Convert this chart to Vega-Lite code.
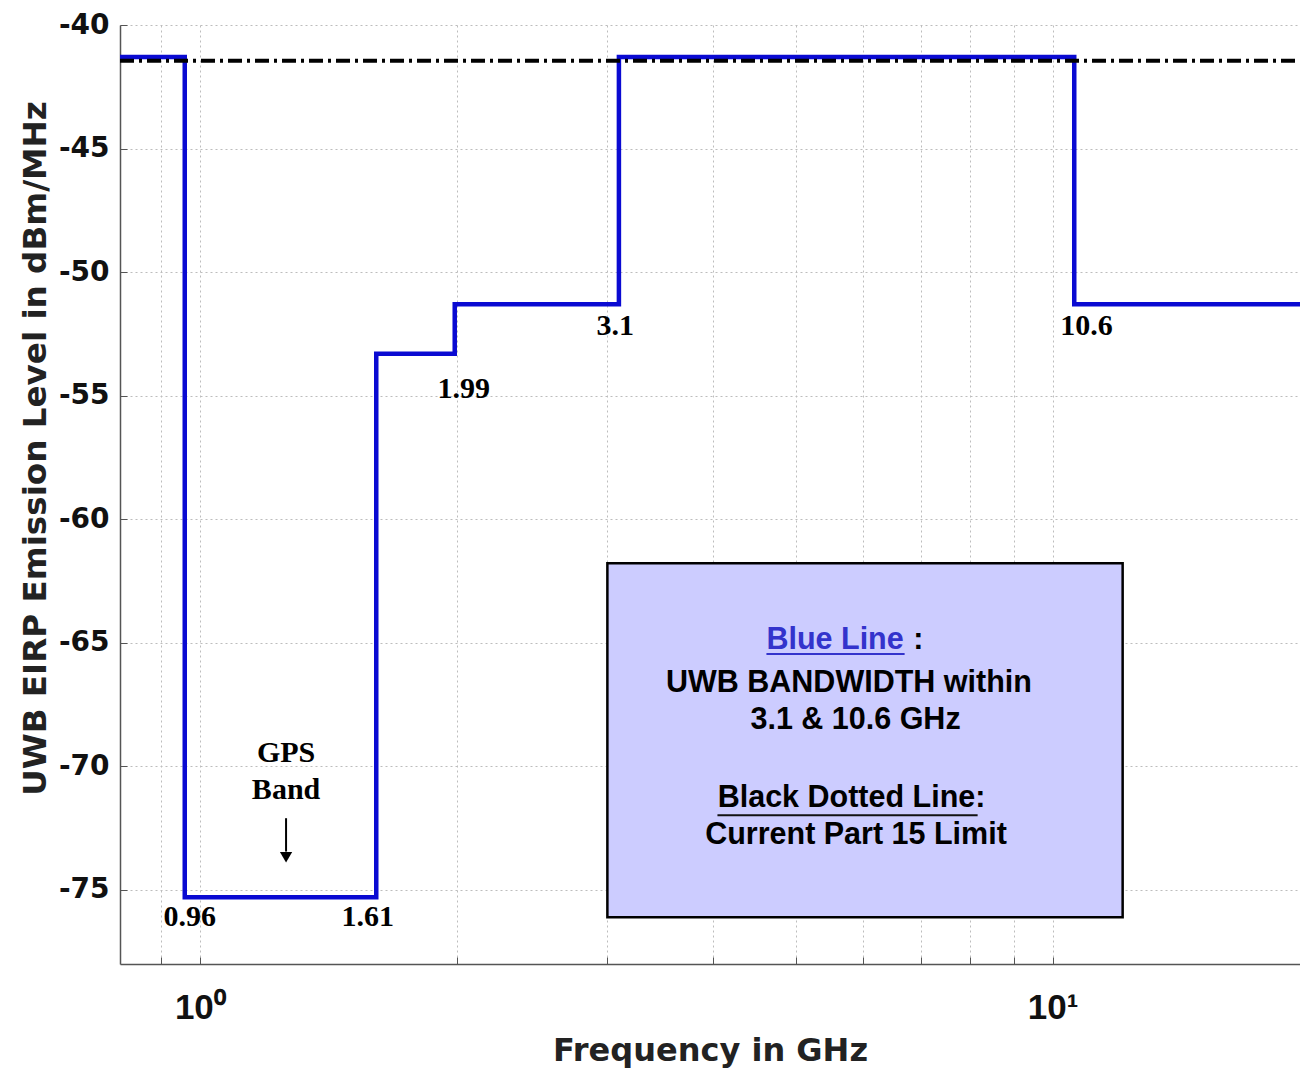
{
  "$schema": "https://vega.github.io/schema/vega-lite/v6.json",
  "width": 1180,
  "height": 939,
  "autosize": "none",
  "padding": {"left": 120, "top": 25, "right": 0, "bottom": 106},
  "background": "white",
  "config": {"view": {"stroke": null}},
  "datasets": {
    "step": [
      {"f": 0.806, "db": -41.3},
      {"f": 0.96, "db": -75.3},
      {"f": 1.61, "db": -53.3},
      {"f": 1.99, "db": -51.3},
      {"f": 3.1, "db": -41.3},
      {"f": 10.6, "db": -51.3},
      {"f": 19.5, "db": -51.3}
    ],
    "limit": [
      {"f": 0.806, "db": -41.45},
      {"f": 19.5, "db": -41.45}
    ],
    "box": [
      {"f": 3.005, "f2": 12.08, "db": -61.78, "db2": -76.11}
    ],
    "serif": [
      {"f": 0.973, "db": -76.1, "t": "0.96"},
      {"f": 1.573, "db": -76.1, "t": "1.61"},
      {"f": 2.039, "db": -54.74, "t": "1.99"},
      {"f": 3.07, "db": -52.19, "t": "3.1"},
      {"f": 10.96, "db": -52.19, "t": "10.6"},
      {"f": 1.262, "db": -69.47, "t": "GPS"},
      {"f": 1.262, "db": -70.97, "t": "Band"}
    ],
    "arrow": [
      {"f": 1.262, "db": -72.1, "db2": -73.45}
    ],
    "arrowhead": [
      {"f": 1.262, "db": -73.68}
    ],
    "boxtext": [
      {"f": 5.769, "db": -66.64, "t": "UWB BANDWIDTH within"},
      {"f": 5.873, "db": -68.14, "t": "3.1 & 10.6 GHz"},
      {"f": 5.81, "db": -71.28, "t": "Black Dotted Line:"},
      {"f": 5.88, "db": -72.79, "t": "Current Part 15 Limit"},
      {"f": 6.96, "db": -64.9, "t": ":"}
    ],
    "bluetext": [
      {"f": 4.617, "db": -64.9, "t": "Blue Line"}
    ],
    "underline": [
      {"f": 4.617, "f2": 6.705, "db": -65.45, "c": "blue"},
      {"f": 4.045, "f2": 8.166, "db": -71.98, "c": "black"}
    ]
  },
  "layer": [
    {
      "data": {"name": "step"},
      "mark": {"type": "line", "interpolate": "step-after", "color": "#0a0ad2", "strokeWidth": 4.5, "clip": true},
      "encoding": {
        "x": {
          "field": "f", "type": "quantitative",
          "scale": {"type": "log", "domain": [0.806, 19.5], "nice": false},
          "axis": {
            "values": [0.9, 1, 2, 3, 4, 5, 6, 7, 8, 9, 10],
            "labelExpr": "datum.value == 1 ? '10⁰' : (datum.value == 10 ? '10¹' : '')",
            "grid": true, "gridDash": [2, 3], "gridColor": "#bdbdbd", "gridWidth": 1,
            "tickSize": -7, "tickColor": "#555", "domainColor": "#555", "domainWidth": 1.5,
            "labelFont": "Liberation Sans", "labelFontWeight": "bold", "labelFontSize": 35,
            "labelColor": "#111", "labelPadding": 33, "labelDx": 4, "labelOverlap": false, "labelFlush": false,
            "title": "Frequency in GHz",
            "titleFont": "DejaVu Sans", "titleFontSize": 32, "titleFontWeight": "bold",
            "titleColor": "#222", "titleY": 71
          }
        },
        "y": {
          "field": "db", "type": "quantitative",
          "scale": {"domain": [-78, -40], "nice": false, "zero": false},
          "axis": {
            "values": [-75, -70, -65, -60, -55, -50, -45, -40],
            "labelExpr": "replace(datum.label, '\u2212', '-')",
            "grid": true, "gridDash": [2, 3], "gridColor": "#bdbdbd", "gridWidth": 1,
            "tickSize": -7, "tickColor": "#555", "domainColor": "#555", "domainWidth": 1.5,
            "labelFont": "DejaVu Sans", "labelFontWeight": "bold", "labelFontSize": 28,
            "labelColor": "#111", "labelPadding": 18,
            "title": "UWB EIRP Emission Level in dBm/MHz",
            "titleFont": "DejaVu Sans", "titleFontSize": 32.6, "titleFontWeight": "bold",
            "titleColor": "#222", "titleBaseline": "alphabetic", "titleX": -75, "titleY": 423
          }
        }
      }
    },
    {
      "data": {"name": "limit"},
      "mark": {"type": "line", "color": "black", "strokeWidth": 4, "strokeDash": [14, 5, 3, 5], "clip": true},
      "encoding": {
        "x": {"field": "f", "type": "quantitative"},
        "y": {"field": "db", "type": "quantitative"}
      }
    },
    {
      "data": {"name": "box"},
      "mark": {"type": "rect", "fill": "#ccccff", "stroke": "black", "strokeWidth": 2.5},
      "encoding": {
        "x": {"field": "f", "type": "quantitative"},
        "x2": {"field": "f2"},
        "y": {"field": "db", "type": "quantitative"},
        "y2": {"field": "db2"}
      }
    },
    {
      "data": {"name": "serif"},
      "mark": {"type": "text", "font": "Liberation Serif", "fontWeight": "bold", "fontSize": 30, "align": "center", "baseline": "middle", "color": "black"},
      "encoding": {
        "x": {"field": "f", "type": "quantitative"},
        "y": {"field": "db", "type": "quantitative"},
        "text": {"field": "t"}
      }
    },
    {
      "data": {"name": "arrow"},
      "mark": {"type": "rule", "color": "black", "strokeWidth": 2},
      "encoding": {
        "x": {"field": "f", "type": "quantitative"},
        "y": {"field": "db", "type": "quantitative"},
        "y2": {"field": "db2"}
      }
    },
    {
      "data": {"name": "arrowhead"},
      "mark": {"type": "point", "shape": "triangle-down", "filled": true, "color": "black", "size": 150, "opacity": 1},
      "encoding": {
        "x": {"field": "f", "type": "quantitative"},
        "y": {"field": "db", "type": "quantitative"}
      }
    },
    {
      "data": {"name": "boxtext"},
      "mark": {"type": "text", "font": "Liberation Sans", "fontWeight": "bold", "fontSize": 30.5, "align": "center", "baseline": "middle", "color": "black"},
      "encoding": {
        "x": {"field": "f", "type": "quantitative"},
        "y": {"field": "db", "type": "quantitative"},
        "text": {"field": "t"}
      }
    },
    {
      "data": {"name": "bluetext"},
      "mark": {"type": "text", "font": "Liberation Sans", "fontWeight": "bold", "fontSize": 30.5, "align": "left", "baseline": "middle", "color": "#3333cc"},
      "encoding": {
        "x": {"field": "f", "type": "quantitative"},
        "y": {"field": "db", "type": "quantitative"},
        "text": {"field": "t"}
      }
    },
    {
      "data": {"name": "underline"},
      "mark": {"type": "rule", "strokeWidth": 2},
      "encoding": {
        "x": {"field": "f", "type": "quantitative"},
        "x2": {"field": "f2"},
        "y": {"field": "db", "type": "quantitative"},
        "color": {"field": "c", "type": "nominal", "scale": {"domain": ["blue", "black"], "range": ["#3333cc", "#111111"]}, "legend": null}
      }
    }
  ]
}
